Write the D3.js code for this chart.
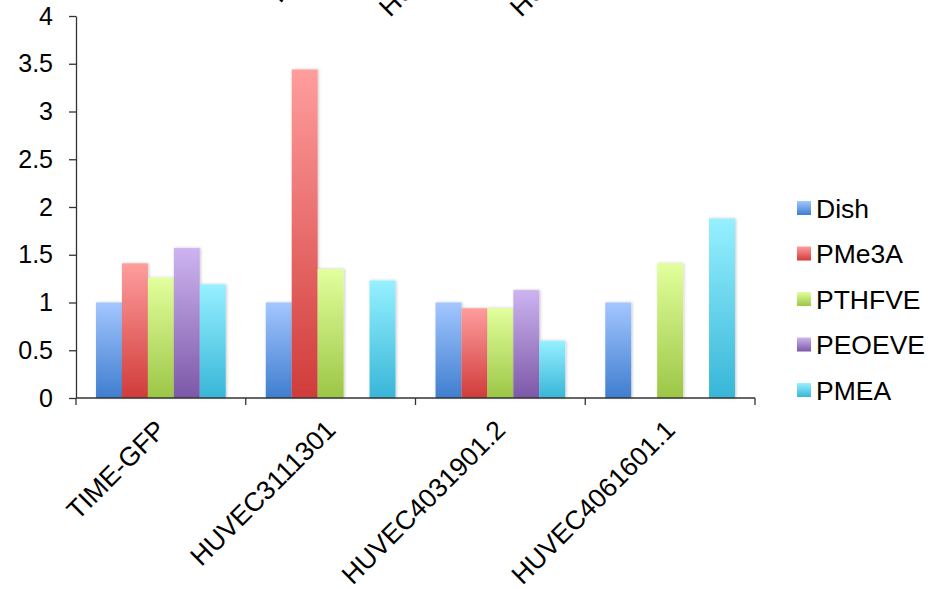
<!DOCTYPE html>
<html>
<head>
<meta charset="utf-8">
<script src="https://cdn.jsdelivr.net/npm/d3@7"></script>
<style>
  body { margin: 0; background: #fff; }
  svg { display: block; }
  text { font-family: "Liberation Sans", Arial, sans-serif; fill: #000; }
</style>
</head>
<body>
<svg id="chart" width="932" height="589"></svg>
<script>
// Cell lines on the x axis and the five culture surfaces
const categories = ["TIME-GFP", "HUVEC3111301", "HUVEC4031901.2", "HUVEC4061601.1"];
const seriesNames = ["Dish", "PMe3A", "PTHFVE", "PEOEVE", "PMEA"];

// Relative values per surface (null = not measured)
const dish   = [1.00, 1.00, 1.00, 1.00];
const pme3a  = [1.41, 3.44, 0.94, null];
const pthfve = [1.26, 1.35, 0.94, 1.41];
const peoeve = [1.57, null, 1.13, null];
const pmea   = [1.19, 1.23, 0.60, 1.88];

const yTicks = [0, 0.5, 1, 1.5, 2, 2.5, 3, 3.5, 4];

// Category labels of the panel above, only their first letters fall inside this frame
const upperLabels = ["HUVEC3111301", "HUVEC4031901.2", "HUVEC4061601.1"];

const seriesValues = [dish, pme3a, pthfve, peoeve, pmea];
const seriesColors = [
  { top: "#a3c6ff", bottom: "#3f7ecf" },
  { top: "#ff9d9d", bottom: "#d03c3a" },
  { top: "#e2ff9c", bottom: "#9cc646" },
  { top: "#cdb4f0", bottom: "#7c58a8" },
  { top: "#96f0ff", bottom: "#38b6d8" }
];

const svg = d3.select("#chart");
const plot = { left: 76, right: 755, top: 16, bottom: 398 };
const labelAngle = -45;

const x0 = d3.scaleBand().domain(categories).range([plot.left, plot.right]).padding(0);
const barGap = x0.bandwidth() * 0.118;
const x1 = d3.scaleBand().domain(seriesNames).range([barGap, x0.bandwidth() - barGap]).padding(0);
const y = d3.scaleLinear().domain([0, 4]).range([plot.bottom, plot.top]);

const defs = svg.append("defs");
seriesColors.forEach((c, i) => {
  const g = defs.append("linearGradient")
    .attr("id", "grad" + i).attr("x1", 0).attr("y1", 0).attr("x2", 0).attr("y2", 1);
  g.append("stop").attr("offset", "0%").attr("stop-color", c.top);
  g.append("stop").attr("offset", "100%").attr("stop-color", c.bottom);
});
const shadow = defs.append("filter").attr("id", "soft")
  .attr("x", "-30%").attr("y", "-10%").attr("width", "160%").attr("height", "120%");
shadow.append("feDropShadow").attr("dx", 1).attr("dy", 0).attr("stdDeviation", 1.4)
  .attr("flood-color", "#000").attr("flood-opacity", 0.22);

// Bars
const rows = [];
categories.forEach((cat, ci) => {
  seriesNames.forEach((s, si) => {
    const v = seriesValues[si][ci];
    if (v != null) rows.push({ cat, s, si, v });
  });
});

svg.append("g").selectAll("rect").data(rows).join("rect")
  .attr("x", d => x0(d.cat) + x1(d.s))
  .attr("y", d => y(d.v))
  .attr("width", x1.bandwidth())
  .attr("height", d => y(0) - y(d.v))
  .attr("fill", d => `url(#grad${d.si})`)
  .attr("filter", "url(#soft)");

// Y axis
const yAxis = svg.append("g")
  .attr("transform", `translate(${plot.left},0)`)
  .call(d3.axisLeft(y).tickValues(yTicks).tickFormat(d3.format("")).tickSize(7).tickSizeOuter(0).tickPadding(16));
yAxis.select(".domain").attr("stroke", "#333").attr("stroke-width", 1.3);
yAxis.selectAll(".tick line").attr("stroke", "#333").attr("stroke-width", 1.3);
yAxis.selectAll(".tick text")
  .style("font-size", "25px")
  .attr("font-family", null)
  .attr("fill", "#000");

// X axis with ticks on the category boundaries
const boundaries = categories.map(c => x0(c)).concat([plot.right]);
const xAxis = svg.append("g").attr("transform", `translate(0,${plot.bottom})`);
xAxis.append("line").attr("x1", plot.left).attr("x2", plot.right)
  .attr("stroke", "#333").attr("stroke-width", 1.3);
xAxis.selectAll("line.tk").data(boundaries).join("line").attr("class", "tk")
  .attr("x1", d => d).attr("x2", d => d).attr("y1", 0).attr("y2", 7)
  .attr("stroke", "#333").attr("stroke-width", 1.3);

// Rotated category labels, ending under each category centre
svg.append("g").selectAll("text").data(categories).join("text")
  .attr("transform", d => `translate(${x0(d) + x0.bandwidth() / 2 - 7},${plot.bottom + 20}) rotate(${labelAngle})`)
  .attr("text-anchor", "end")
  .attr("dy", "0.72em")
  .style("font-size", "26.5px")
  .text(d => d);

// Labels of the panel above
const upperStarts = [[280, 4], [390, 18], [521, 18]];
svg.append("g").selectAll("text").data(upperLabels).join("text")
  .attr("transform", (d, i) => `translate(${upperStarts[i][0]},${upperStarts[i][1]}) rotate(${labelAngle})`)
  .attr("text-anchor", "start")
  .style("font-size", "26.5px")
  .text(d => d);

// Legend
const legend = svg.append("g").attr("transform", "translate(797,208)");
const item = legend.selectAll("g").data(seriesNames).join("g")
  .attr("transform", (d, i) => `translate(0,${i * 45.5})`);
item.append("rect").attr("x", 0).attr("y", -7).attr("width", 14).attr("height", 14)
  .attr("fill", (d, i) => `url(#grad${i})`);
item.append("text").attr("x", 19).attr("dy", "0.36em")
  .style("font-size", "26.5px")
  .text(d => d);
</script>
</body>
</html>
